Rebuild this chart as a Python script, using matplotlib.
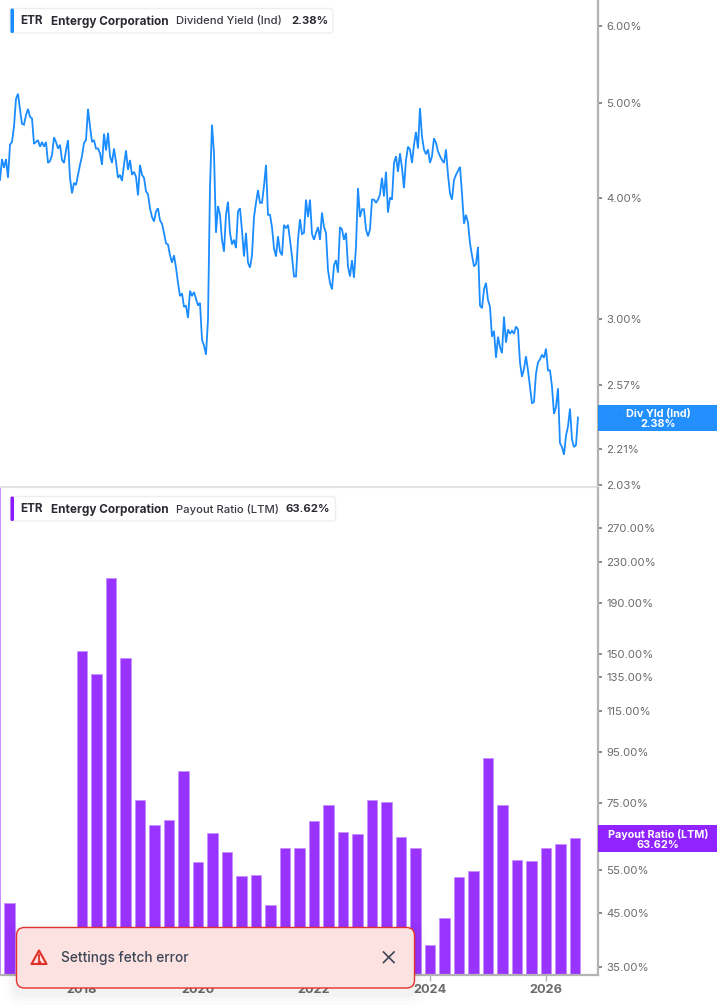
import numpy as np
import matplotlib
matplotlib.use("Agg")
import matplotlib.pyplot as plt
from matplotlib.patches import FancyBboxPatch, Rectangle, Polygon
from matplotlib.ticker import FixedLocator, NullLocator, FixedFormatter

plt.rcParams['font.family'] = ['Inter', 'DejaVu Sans']

# ---------- data ----------
YIELD_START = 2016.586
YIELD_PER_YEAR = 29
dividend_yield = [
 4.17,4.38,4.29,4.38,4.19,4.53,4.56,4.73,5.05,5.11,4.92,4.76,4.75,4.86,4.93,4.84,4.82,4.54,4.56,4.58,
 4.51,4.56,4.51,4.56,4.34,4.36,4.42,4.61,4.56,4.49,4.53,4.37,4.34,4.47,4.58,4.19,4.04,4.14,4.12,4.22,
 4.32,4.41,4.55,4.58,4.93,4.73,4.56,4.58,4.49,4.49,4.44,4.32,4.65,4.47,4.66,4.41,4.34,4.49,4.35,4.19,
 4.22,4.16,4.32,4.47,4.27,4.37,4.22,4.25,4.20,4.02,4.32,4.22,4.19,4.06,4.03,
 3.90,3.82,3.78,3.87,3.90,3.79,3.76,3.68,3.59,3.58,3.49,3.43,3.49,3.39,3.27,3.17,3.19,3.09,3.10,3.01,
 3.21,3.17,3.20,3.15,3.10,3.12,2.86,2.82,2.76,3.00,4.10,4.75,4.44,3.68,3.92,3.84,3.62,3.52,3.84,3.96,
 3.68,3.58,3.62,3.55,3.87,3.90,3.70,3.48,3.68,3.43,3.39,3.49,3.82,3.95,4.07,3.95,3.95,4.11,4.32,3.84,
 3.84,3.73,3.55,3.48,3.65,3.52,3.49,3.75,3.72,3.75,3.62,
 3.48,3.32,3.32,3.62,3.80,3.67,3.68,3.98,3.82,3.98,3.67,3.62,3.68,3.73,3.62,3.86,3.73,3.68,3.37,3.27,
 3.22,3.41,3.45,3.35,3.73,3.71,3.62,3.68,3.40,3.32,3.45,3.31,3.56,4.09,3.82,3.89,3.89,3.71,3.65,3.71,
 3.98,3.98,3.95,3.98,4.03,4.19,4.01,4.25,3.86,4.00,3.98,4.34,4.41,4.25,4.44,4.29,4.09,4.37,4.51,4.48,
 4.34,4.53,4.67,4.49,4.94,4.62,4.48,4.43,4.48,4.34,4.41,4.60,4.55,4.46,4.41,4.37,4.34,4.48,4.22,
 4.04,3.98,4.17,4.22,4.26,4.30,4.04,3.76,3.84,3.77,3.59,3.49,3.40,3.42,3.56,3.10,3.08,3.22,3.27,3.14,
 3.09,2.88,2.92,2.74,2.88,2.81,2.77,3.02,2.84,2.93,2.90,2.92,2.90,2.95,2.93,2.71,2.62,2.67,2.75,2.66,
 2.56,2.46,2.47,2.64,2.71,2.73,2.76,2.74,2.80,2.66,2.66,2.56,2.40,2.44,2.55,2.24,2.22,2.18,2.28,2.33,
 2.43,2.26,2.22,2.23,2.38,
]
payout_dates = [2016.5, 2016.75] + [2018 + 0.25 * q for q in range(35)]
payout_ratio = [
 330, 47.1,
 152, 136.7, 213.6, 147.3, 76.1, 67.7, 69.3, 87.1, 57.1, 65.2, 59.8, 53.4, 53.7, 46.7, 60.9, 60.9,
 69.0, 74.4, 65.5, 65.0, 76.1, 75.4, 64.0, 60.9, 38.8, 44.0, 53.2, 54.7, 92.5, 74.4, 57.6, 57.3,
 60.9, 62.0, 63.62,
]
yield_ticks = [6.00, 5.00, 4.00, 3.00, 2.57, 2.39, 2.21, 2.03]
payout_ticks = [270, 230, 190, 150, 135, 115, 95, 75, 55, 45, 35]
year_ticks = [2018, 2020, 2022, 2024, 2026]
current_yield = 2.38
current_payout = 63.62

BLUE = '#1a8cff'
PURPLE = '#9933ff'
PURPLE_DK = '#8c1aff'
GREY = '#6b6b6b'
AX = '#b3b3b3'
W, H = 717, 1005

fig = plt.figure(figsize=(W / 100, H / 100), dpi=100, facecolor='white')

def pane(top, bottom):
    return fig.add_axes([0, 1 - bottom / H, 597.5 / W, (bottom - top) / H])

XLIM = (2016.586, 2026.888)
ax1 = pane(0, 487)
ax2 = pane(488, 975)

for ax, ylim, ticks in ((ax1, (2.02, 6.375), yield_ticks), (ax2, (33.7, 325), payout_ticks)):
    ax.set_xlim(*XLIM)
    ax.set_yscale('log')
    ax.set_ylim(*ylim)
    ax.yaxis.tick_right()
    ax.yaxis.set_major_locator(FixedLocator(ticks))
    ax.yaxis.set_major_formatter(FixedFormatter([f'{t:.2f}%' for t in ticks]))
    ax.yaxis.set_minor_locator(NullLocator())
    ax.tick_params(axis='y', which='major', length=3, width=1.2, color='#777777',
                   labelcolor=GREY, labelsize=8.2, pad=3.4)
    for label in ax.get_yticklabels():
        label.set_verticalalignment('center_baseline')
    for s in ('top', 'left'):
        ax.spines[s].set_visible(False)
    ax.spines['right'].set_color(AX)
    ax.spines['right'].set_linewidth(1.6)
    ax.patch.set_alpha(0)

# top pane
dates = YIELD_START + np.arange(len(dividend_yield)) / YIELD_PER_YEAR
ax1.plot(dates, dividend_yield, color=BLUE, lw=1.3, solid_joinstyle='miter', zorder=2)
ax1.set_xticks([])
ax1.spines['bottom'].set_color('#e2e2e2')
ax1.spines['bottom'].set_linewidth(1.5)

# bottom pane
ax2.bar(payout_dates, [v - 20 for v in payout_ratio], bottom=20, width=0.185,
        color=PURPLE, edgecolor='#c48dff', linewidth=0.5, zorder=2)
ax2.set_xticks(year_ticks)
ax2.set_xticklabels([str(y) for y in year_ticks], fontweight='bold')
ax2.tick_params(axis='x', length=4, width=1, color=AX, labelcolor=GREY, labelsize=9.2, pad=2.6)
ax2.spines['bottom'].set_color(AX)
ax2.spines['bottom'].set_linewidth(1.6)

# value badges on the right axis
def badge(ax, val, colour, label, half_px):
    axis_h = ax.get_window_extent().height
    tr = ax.get_yaxis_transform()
    ymin, ymax = ax.get_ylim()
    scale = np.log(ymax / ymin) / axis_h
    lo, hi = val * np.exp(-half_px * scale), val * np.exp(half_px * scale)
    ax.add_patch(Rectangle((1.0, lo), 120 / 597.5, hi - lo, transform=tr, clip_on=False,
                           facecolor=colour, edgecolor='none', alpha=0.96, zorder=6))
    ax.text(1 + 60.5 / 597.5, val, f'{label}\n{val:.2f}%', transform=tr, color='white', ha='center',
            va='center_baseline', fontsize=7.8, fontweight='bold', linespacing=1.0, zorder=7, clip_on=False)

badge(ax1, current_yield, BLUE, 'Div Yld (Ind)', 13)
badge(ax2, current_payout, PURPLE_DK, 'Payout Ratio (LTM)', 13.5)

# overlay in pixel space for the legend chips and the toast
ov = fig.add_axes([0, 0, 1, 1], zorder=20)
ov.set_xlim(0, W)
ov.set_ylim(H, 0)
ov.axis('off')

def chip(y0, y1, x1, colour, metric, value, value_x):
    ov.add_patch(FancyBboxPatch((10, y0), x1 - 10, y1 - y0, boxstyle='round,pad=0,rounding_size=3',
                                fc='white', ec='#eeeeee', lw=1))
    ov.add_patch(FancyBboxPatch((10.5, y0), 3.5, y1 - y0, boxstyle='round,pad=0,rounding_size=1.5',
                                fc=colour, ec='none'))
    yc = (y0 + y1) / 2 + 0.7
    ov.text(20, yc, 'ETR', fontsize=8.5, fontweight='bold', color='#2b2b33', va='center')
    ov.text(51, yc, 'Entergy Corporation', fontsize=8.5, fontweight='bold', color='#2b2b33', va='center')
    ov.text(176, yc, metric, fontsize=8.15, fontweight='medium', color='#3a3a42', va='center')
    ov.text(value_x, yc, value, fontsize=8.2, fontweight='bold', color='#2b2b33', va='center')

chip(8.5, 33, 333, BLUE, 'Dividend Yield (Ind)', '2.38%', 291)
chip(496.5, 521, 335.5, PURPLE_DK, 'Payout Ratio (LTM)', '63.62%', 286)

# toast
for grow, a in ((12, 0.012), (8, 0.015), (4, 0.02)):
    ov.add_patch(FancyBboxPatch((16.5 - grow, 927.5 - grow + 5), 398 + 2 * grow, 60.5 + 2 * grow,
                                boxstyle=f'round,pad=0,rounding_size={8 + grow}',
                                fc='black', ec='none', alpha=a))
ov.add_patch(FancyBboxPatch((16.5, 927.5), 398, 60.5, boxstyle='round,pad=0,rounding_size=8',
                            fc='#fde2e2', ec='#e53030', lw=1))
ov.add_patch(Polygon([(39, 950.5), (46.5, 964), (31.5, 964)], closed=True, fc='none', ec='#e03028', lw=1.5,
                     joinstyle='round'))
ov.plot([39, 39], [954.5, 959.5], color='#e03028', lw=1.3)
ov.plot([39], [961.7], marker='o', ms=1.5, color='#e03028')
ov.text(61, 957.5, 'Settings fetch error', fontsize=9.9, color='#3d4756', va='center', fontweight='medium')
ov.plot([383.5, 394], [952, 962.5], color='#3d4756', lw=1.2)
ov.plot([383.5, 394], [962.5, 952], color='#3d4756', lw=1.2)

fig.savefig('out.png', dpi=100)
